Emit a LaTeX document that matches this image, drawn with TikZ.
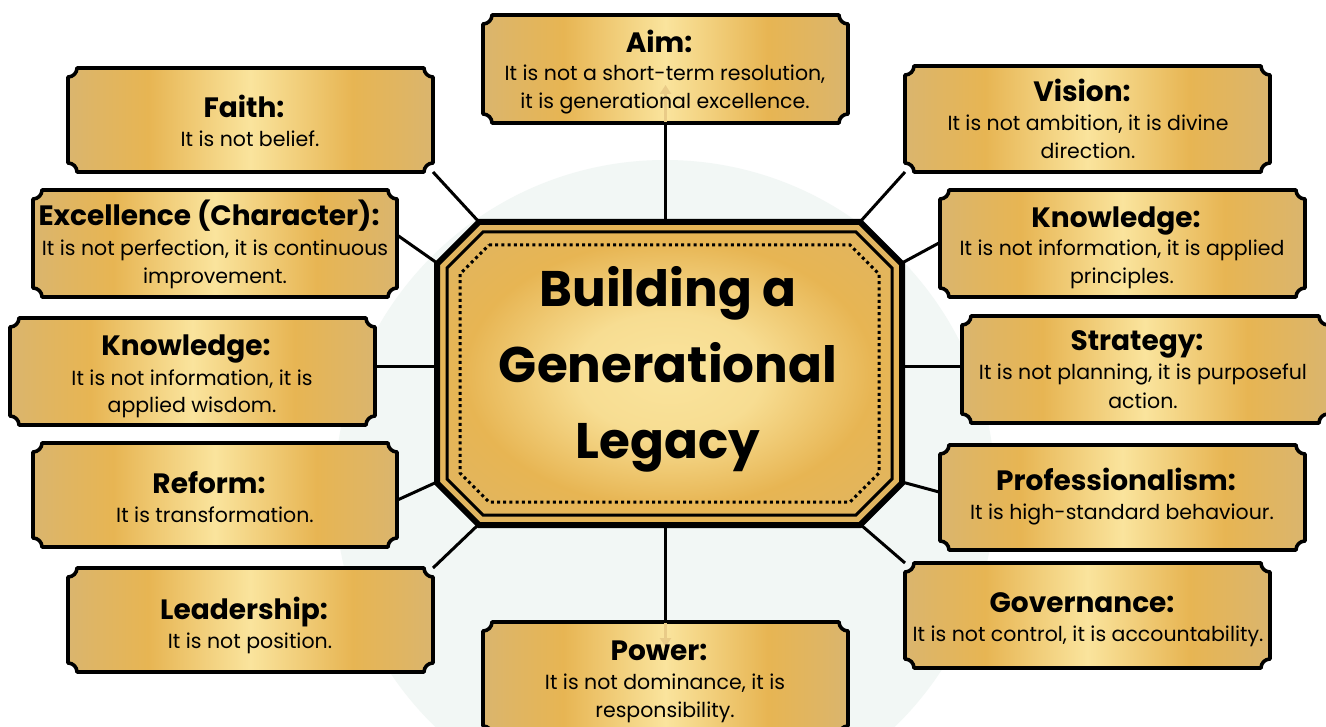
\documentclass[tikz,border=0pt]{standalone}
\usepackage{fontspec}
\setmainfont{Poppins}
\usetikzlibrary{calc,arrows.meta}
\definecolor{gEdge}{HTML}{DAB56E}
\definecolor{gBand}{HTML}{E7B553}
\definecolor{gLight}{HTML}{FAE49D}
\definecolor{wm}{HTML}{F2F7F5}
\definecolor{faintarrow}{HTML}{E9CB88}
\pgfdeclarehorizontalshading{goldh}{100bp}{color(0bp)=(gEdge); color(25bp)=(gEdge); color(29bp)=(gEdge!60!gBand); color(36bp)=(gBand); color(50bp)=(gLight); color(64bp)=(gBand); color(71bp)=(gEdge!60!gBand); color(75bp)=(gEdge); color(100bp)=(gEdge)}
\pgfdeclareradialshading{goldr}{\pgfpoint{0bp}{0bp}}{color(0bp)=(gLight); color(10bp)=(gLight!85!gBand); color(22bp)=(gBand); color(30bp)=(gEdge!40!gBand); color(36bp)=(gEdge); color(50bp)=(gEdge)}
\newcommand\bx[5]{\node[inner sep=0pt,outer sep=0pt,minimum width={#4-#2},minimum height={#5-#3}] (#1) at ({(#2+#4)/2},{(#3+#5)/2}) {};}
\newcommand\plq[1]{\path[plaquesty] let \p1=(#1.north west), \p2=(#1.south east) in
 (\x1+9pt,\y1) -- (\x2-9pt,\y1) .. controls (\x2-9pt,\y1-5pt) and (\x2-5pt,\y1-9pt) .. (\x2,\y1-9pt)
 -- (\x2,\y2+9pt) .. controls (\x2-5pt,\y2+9pt) and (\x2-9pt,\y2+5pt) .. (\x2-9pt,\y2)
 -- (\x1+9pt,\y2) .. controls (\x1+9pt,\y2+5pt) and (\x1+5pt,\y2+9pt) .. (\x1,\y2+9pt)
 -- (\x1,\y1-9pt) .. controls (\x1+5pt,\y1-9pt) and (\x1+9pt,\y1-5pt) .. (\x1+9pt,\y1) -- cycle;}
\newcommand\octpath[5]{({#1+#5},#2) -- ({#3-#5},#2) -- (#3,{#2+#5}) -- (#3,{#4-#5}) -- ({#3-#5},#4) -- ({#1+#5},#4) -- (#1,{#4-#5}) -- (#1,{#2+#5}) -- cycle}
\tikzset{
 plaquesty/.style={draw=black,line width=3.6pt,line join=round,shading=goldh},
 conn/.style={draw=black,line width=3pt},
 ttl/.style={anchor=base,inner sep=0pt,font=\fontsize{28}{32}\selectfont\bfseries,xshift=-6pt},
 bdy/.style={anchor=base,inner sep=0pt,font=\fontsize{20.5}{24}\selectfont},
 big/.style={anchor=base,inner sep=0pt,font=\fontsize{50}{60}\selectfont\bfseries}
}
\begin{document}
\begin{tikzpicture}[x=1pt,y=-1pt]
\useasboundingbox[fill=white] (0,0) rectangle (1326,727);
\fill[wm] (665,490) circle (330);
% box nodes
\bx{aim}{483}{15}{848}{123}
\bx{faith}{68}{68}{433}{172}
\bx{vision}{905}{66}{1270}{172}
\bx{exc}{33}{190}{397}{297}
\bx{knr}{940}{190}{1305}{297}
\bx{knl}{10}{318}{375}{425}
\bx{strat}{962}{316}{1328}{423}
\bx{reform}{33}{443}{397}{547}
\bx{prof}{940}{445}{1305}{550}
\bx{lead}{68}{568}{433}{672}
\bx{gov}{905}{563}{1270}{668}
\bx{power}{483}{622}{848}{735}
% octagon vertices
\coordinate (oTL) at (479,222);
\coordinate (oTR) at (860,222);
\coordinate (oRT) at (902,263);
\coordinate (oRB) at (902,482);
\coordinate (oBR) at (861,525);
\coordinate (oBL) at (478,525);
\coordinate (oLB) at (437,482);
\coordinate (oLT) at (437,263);
\coordinate (oTop) at (665,222);
\coordinate (oBot) at (665,525);
% connectors
\draw[conn] (aim.south) -- (aim.south |- oTop);
\draw[conn] (power.north) -- (power.north |- oBot);
\draw[conn] (faith.south east) -- (oTL);
\draw[conn] ($(exc.north east)!0.42!(exc.south east)$) -- (oLT);
\draw[conn] ($(knl.north east)!0.45!(knl.south east)$) coordinate (kl1) -- (kl1 -| oLT);
\draw[conn] ($(reform.north east)!0.55!(reform.south east)$) -- (oLB);
\draw[conn] (lead.north east) -- (oBL);
\draw[conn] (vision.south west) -- (oTR);
\draw[conn] ($(knr.north west)!0.49!(knr.south west)$) -- (oRT);
\draw[conn] ($(strat.north west)!0.47!(strat.south west)$) coordinate (st1) -- (st1 -| oRT);
\draw[conn] ($(prof.north west)!0.45!(prof.south west)$) -- (oRB);
\draw[conn] (gov.north west) -- (oBR);
% central octagon
\path[shading=goldr,draw=black,line width=6pt,line join=miter] \octpath{437}{222}{902}{525}{42};
\draw[line width=3pt] \octpath{447}{232}{892}{515}{36};
\draw[line width=3pt,dash pattern=on 3pt off 3.2pt] \octpath{460}{245}{879}{502}{29};
\node[big] (t1) at (668,307) {Building a};
\node[big] (t2) at (668,382) {Generational};
\node[big] (t3) at (668,458) {Legacy};
% plaques
\plq{aim}\plq{faith}\plq{vision}\plq{exc}\plq{knr}\plq{knl}
\plq{strat}\plq{reform}\plq{prof}\plq{lead}\plq{gov}\plq{power}
\draw[faintarrow,line width=2.5pt,-{Triangle[length=9pt,width=11pt]}] (aim.south) ++(0,-1) coordinate (a1) -- ($(a1)+(0,-37)$);
\draw[faintarrow,line width=2.5pt,-{Triangle[length=9pt,width=11pt]}] (power.north) ++(0,1) coordinate (p1) -- ($(p1)+(0,24)$);
% texts
\node[ttl] (aim-t) at (665,53) {Aim:};
\node[bdy] (aim-b1) at (665,81) {It is not a short-term resolution,};
\node[bdy] (aim-b2) at (665,109) {it is generational excellence.};
\node[ttl] (faith-t) at (250,118) {Faith:};
\node[bdy] (faith-b1) at (250,147) {It is not belief.};
\node[ttl] (vision-t) at (1088,102) {Vision:};
\node[bdy] (vision-b1) at (1088,131) {It is not ambition, it is divine};
\node[bdy] (vision-b2) at (1088,159) {direction.};
\node[ttl] (exc-t) at (215,226) {Excellence (Character):};
\node[bdy] (exc-b1) at (215,256) {It is not perfection, it is continuous};
\node[bdy] (exc-b2) at (215,284) {improvement.};
\node[ttl] (knr-t) at (1122,228) {Knowledge:};
\node[bdy] (knr-b1) at (1122,256) {It is not information, it is applied};
\node[bdy] (knr-b2) at (1122,284) {principles.};
\node[ttl] (knl-t) at (192,356) {Knowledge:};
\node[bdy] (knl-b1) at (192,385) {It is not information, it is};
\node[bdy] (knl-b2) at (192,413) {applied wisdom.};
\node[ttl] (strat-t) at (1143,351) {Strategy:};
\node[bdy] (strat-b1) at (1143,380) {It is not planning, it is purposeful};
\node[bdy] (strat-b2) at (1143,408) {action.};
\node[ttl] (reform-t) at (215,493) {Reform:};
\node[bdy] (reform-b1) at (215,522) {It is transformation.};
\node[ttl] (prof-t) at (1122,490) {Professionalism:};
\node[bdy] (prof-b1) at (1122,519) {It is high-standard behaviour.};
\node[ttl] (lead-t) at (250,619) {Leadership:};
\node[bdy] (lead-b1) at (250,648) {It is not position.};
\node[ttl] (gov-t) at (1088,612) {Governance:};
\node[bdy] (gov-b1) at (1088,641) {It is not control, it is accountability.};
\node[ttl] (power-t) at (665,660) {Power:};
\node[bdy] (power-b1) at (665,689) {It is not dominance, it is};
\node[bdy] (power-b2) at (665,717) {responsibility.};
\end{tikzpicture}
\end{document}
